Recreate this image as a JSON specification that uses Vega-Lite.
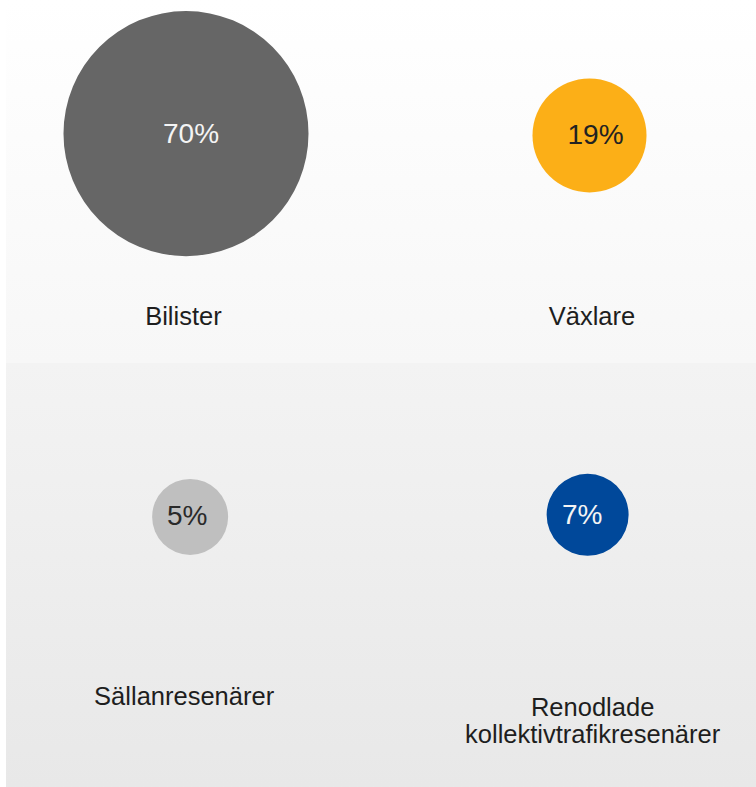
{
  "$schema": "https://vega.github.io/schema/vega-lite/v6.json",
  "background": "white",
  "padding": {"left": 6, "top": 0, "right": 0, "bottom": 0},
  "config": {"font": "Liberation Sans", "concat": {"spacing": 0}},
  "data": {
    "values": [
      {"grupp": "Bilister", "andel": 0.70},
      {"grupp": "Växlare", "andel": 0.19},
      {"grupp": "Sällanresenärer", "andel": 0.05},
      {"grupp": "Renodlade kollektivtrafikresenärer", "andel": 0.07}
    ]
  },
  "spacing": 0,
  "vconcat": [
    {
      "spacing": 0,
      "hconcat": [
        {
          "width": 375, "height": 363,
          "view": {"stroke": null, "fill": {"gradient": "linear", "x1": 0, "y1": 0, "x2": 0, "y2": 1, "stops": [{"offset": 0, "color": "#ffffff"}, {"offset": 1, "color": "#f7f7f7"}]}},
          "transform": [{"filter": {"field": "grupp", "equal": "Bilister"}}],
          "encoding": {
            "x": {"field": "grupp", "type": "nominal", "axis": null, "scale": {"type": "point", "align": 0.48}},
            "y": {"field": "grupp", "type": "nominal", "axis": null, "scale": {"type": "point", "align": 0.368}}
          },
          "layer": [
            {"mark": {"type": "circle", "opacity": 1, "strokeWidth": 0},
             "encoding": {
               "size": {"field": "andel", "type": "quantitative", "legend": null, "scale": {"domain": [0.05, 0.07, 0.19, 0.70], "range": [5776, 6724, 12996, 60025]}},
               "color": {"field": "grupp", "type": "nominal", "legend": null, "scale": {"domain": ["Bilister", "Växlare", "Sällanresenärer", "Renodlade kollektivtrafikresenärer"], "range": ["#666666", "#fcaf17", "#bfbfbf", "#00489a"]}}
             }},
            {"mark": {"type": "text", "fontSize": 28, "baseline": "alphabetic", "dx": 5, "dy": 9.5, "color": "#f4f4f4"},
             "encoding": {"text": {"field": "andel", "type": "quantitative", "format": ".0%"}}},
            {"mark": {"type": "text", "fontSize": 25.5, "baseline": "alphabetic", "dx": -2.6, "dy": 191.5, "color": "#1e1e1e"},
             "encoding": {"text": {"field": "grupp", "type": "nominal"}}}
          ]
        },
        {
          "width": 375, "height": 363,
          "view": {"stroke": null, "fill": {"gradient": "linear", "x1": 0, "y1": 0, "x2": 0, "y2": 1, "stops": [{"offset": 0, "color": "#ffffff"}, {"offset": 1, "color": "#f7f7f7"}]}},
          "transform": [{"filter": {"field": "grupp", "equal": "Växlare"}}],
          "encoding": {
            "x": {"field": "grupp", "type": "nominal", "axis": null, "scale": {"type": "point", "align": 0.556}},
            "y": {"field": "grupp", "type": "nominal", "axis": null, "scale": {"type": "point", "align": 0.373}}
          },
          "layer": [
            {"mark": {"type": "circle", "opacity": 1, "strokeWidth": 0},
             "encoding": {
               "size": {"field": "andel", "type": "quantitative", "legend": null},
               "color": {"field": "grupp", "type": "nominal", "legend": null}
             }},
            {"mark": {"type": "text", "fontSize": 28, "baseline": "alphabetic", "dx": 6, "dy": 9, "color": "#222222"},
             "encoding": {"text": {"field": "andel", "type": "quantitative", "format": ".0%"}}},
            {"mark": {"type": "text", "fontSize": 25.5, "baseline": "alphabetic", "dx": 2.5, "dy": 189.7, "color": "#1e1e1e"},
             "encoding": {"text": {"field": "grupp", "type": "nominal"}}}
          ]
        }
      ]
    },
    {
      "spacing": 0,
      "hconcat": [
        {
          "width": 375, "height": 424,
          "view": {"stroke": null, "fill": {"gradient": "linear", "x1": 0, "y1": 0, "x2": 0, "y2": 1, "stops": [{"offset": 0, "color": "#f3f3f3"}, {"offset": 1, "color": "#e8e8e8"}]}},
          "transform": [{"filter": {"field": "grupp", "equal": "Sällanresenärer"}}],
          "encoding": {
            "x": {"field": "grupp", "type": "nominal", "axis": null, "scale": {"type": "point", "align": 0.491}},
            "y": {"field": "grupp", "type": "nominal", "axis": null, "scale": {"type": "point", "align": 0.363}}
          },
          "layer": [
            {"mark": {"type": "circle", "opacity": 1, "strokeWidth": 0},
             "encoding": {
               "size": {"field": "andel", "type": "quantitative", "legend": null},
               "color": {"field": "grupp", "type": "nominal", "legend": null}
             }},
            {"mark": {"type": "text", "fontSize": 28, "baseline": "alphabetic", "dx": -3, "dy": 8, "color": "#2a2a2a"},
             "encoding": {"text": {"field": "andel", "type": "quantitative", "format": ".0%"}}},
            {"mark": {"type": "text", "fontSize": 25.5, "baseline": "alphabetic", "dx": -6, "dy": 188, "color": "#1e1e1e"},
             "encoding": {"text": {"field": "grupp", "type": "nominal"}}}
          ]
        },
        {
          "width": 375, "height": 424,
          "view": {"stroke": null, "fill": {"gradient": "linear", "x1": 0, "y1": 0, "x2": 0, "y2": 1, "stops": [{"offset": 0, "color": "#f3f3f3"}, {"offset": 1, "color": "#e8e8e8"}]}},
          "transform": [{"filter": {"field": "grupp", "equal": "Renodlade kollektivtrafikresenärer"}}],
          "encoding": {
            "x": {"field": "grupp", "type": "nominal", "axis": null, "scale": {"type": "point", "align": 0.551}},
            "y": {"field": "grupp", "type": "nominal", "axis": null, "scale": {"type": "point", "align": 0.358}}
          },
          "layer": [
            {"mark": {"type": "circle", "opacity": 1, "strokeWidth": 0},
             "encoding": {
               "size": {"field": "andel", "type": "quantitative", "legend": null},
               "color": {"field": "grupp", "type": "nominal", "legend": null}
             }},
            {"mark": {"type": "text", "fontSize": 28, "baseline": "alphabetic", "dx": -5.5, "dy": 9, "color": "#f4f4f4"},
             "encoding": {"text": {"field": "andel", "type": "quantitative", "format": ".0%"}}},
            {"mark": {"type": "text", "fontSize": 25.5, "baseline": "alphabetic", "dx": 5, "dy": 201.7, "lineBreak": " ", "lineHeight": 26.6, "color": "#1e1e1e"},
             "encoding": {"text": {"field": "grupp", "type": "nominal"}}}
          ]
        }
      ]
    }
  ]
}
